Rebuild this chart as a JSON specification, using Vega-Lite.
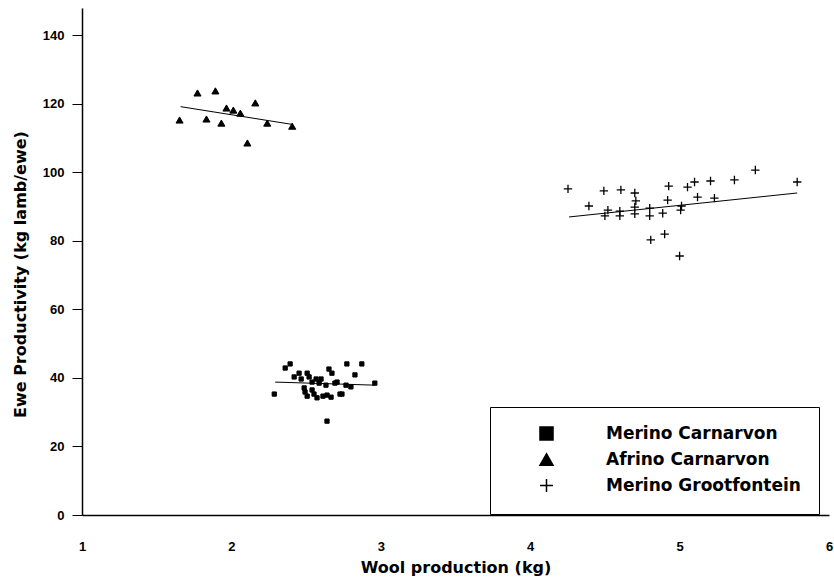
{
  "$schema": "https://vega.github.io/schema/vega-lite/v6.json",
  "width": 747,
  "height": 507,
  "autosize": {"type": "none"},
  "padding": {"left": 82, "top": 8, "right": 5, "bottom": 67},
  "background": "white",
  "config": {
    "view": {"stroke": null},
    "font": "Liberation Sans",
    "axis": {"grid": false, "domainColor": "black", "domainWidth": 1.5, "tickColor": "black", "labelColor": "black", "titleColor": "black", "labelFontWeight": "bold", "titleFontWeight": "bold", "labelFontSize": 13, "titleFont": "DejaVu Sans", "titleFontSize": 16}
  },
  "datasets": {
    "points": [
      {"breed": "Afrino Carnarvon", "wool": 1.653, "prod": 115.3},
      {"breed": "Afrino Carnarvon", "wool": 1.773, "prod": 123.2},
      {"breed": "Afrino Carnarvon", "wool": 1.893, "prod": 123.8},
      {"breed": "Afrino Carnarvon", "wool": 1.833, "prod": 115.6},
      {"breed": "Afrino Carnarvon", "wool": 1.933, "prod": 114.4},
      {"breed": "Afrino Carnarvon", "wool": 1.967, "prod": 118.8},
      {"breed": "Afrino Carnarvon", "wool": 2.013, "prod": 118.2},
      {"breed": "Afrino Carnarvon", "wool": 2.06, "prod": 117.3},
      {"breed": "Afrino Carnarvon", "wool": 2.16, "prod": 120.3},
      {"breed": "Afrino Carnarvon", "wool": 2.24, "prod": 114.4},
      {"breed": "Afrino Carnarvon", "wool": 2.407, "prod": 113.5},
      {"breed": "Afrino Carnarvon", "wool": 2.107, "prod": 108.6},
      {"breed": "Merino Carnarvon", "wool": 2.287, "prod": 35.3},
      {"breed": "Merino Carnarvon", "wool": 2.36, "prod": 42.9},
      {"breed": "Merino Carnarvon", "wool": 2.393, "prod": 44.1},
      {"breed": "Merino Carnarvon", "wool": 2.42, "prod": 40.3},
      {"breed": "Merino Carnarvon", "wool": 2.453, "prod": 41.4},
      {"breed": "Merino Carnarvon", "wool": 2.467, "prod": 39.7},
      {"breed": "Merino Carnarvon", "wool": 2.507, "prod": 41.4},
      {"breed": "Merino Carnarvon", "wool": 2.52, "prod": 40.3},
      {"breed": "Merino Carnarvon", "wool": 2.54, "prod": 38.8},
      {"breed": "Merino Carnarvon", "wool": 2.567, "prod": 39.7},
      {"breed": "Merino Carnarvon", "wool": 2.587, "prod": 38.5},
      {"breed": "Merino Carnarvon", "wool": 2.6, "prod": 39.7},
      {"breed": "Merino Carnarvon", "wool": 2.487, "prod": 37.1},
      {"breed": "Merino Carnarvon", "wool": 2.493, "prod": 35.9},
      {"breed": "Merino Carnarvon", "wool": 2.507, "prod": 34.7},
      {"breed": "Merino Carnarvon", "wool": 2.54, "prod": 36.5},
      {"breed": "Merino Carnarvon", "wool": 2.553, "prod": 35.3},
      {"breed": "Merino Carnarvon", "wool": 2.573, "prod": 34.2},
      {"breed": "Merino Carnarvon", "wool": 2.613, "prod": 34.7},
      {"breed": "Merino Carnarvon", "wool": 2.64, "prod": 35.0},
      {"breed": "Merino Carnarvon", "wool": 2.667, "prod": 34.4},
      {"breed": "Merino Carnarvon", "wool": 2.633, "prod": 37.9},
      {"breed": "Merino Carnarvon", "wool": 2.653, "prod": 42.6},
      {"breed": "Merino Carnarvon", "wool": 2.673, "prod": 41.4},
      {"breed": "Merino Carnarvon", "wool": 2.693, "prod": 38.5},
      {"breed": "Merino Carnarvon", "wool": 2.707, "prod": 38.8},
      {"breed": "Merino Carnarvon", "wool": 2.727, "prod": 35.3},
      {"breed": "Merino Carnarvon", "wool": 2.74, "prod": 35.3},
      {"breed": "Merino Carnarvon", "wool": 2.767, "prod": 37.9},
      {"breed": "Merino Carnarvon", "wool": 2.8, "prod": 37.4},
      {"breed": "Merino Carnarvon", "wool": 2.773, "prod": 44.1},
      {"breed": "Merino Carnarvon", "wool": 2.827, "prod": 40.9},
      {"breed": "Merino Carnarvon", "wool": 2.873, "prod": 44.1},
      {"breed": "Merino Carnarvon", "wool": 2.96, "prod": 38.5},
      {"breed": "Merino Carnarvon", "wool": 2.64, "prod": 27.4},
      {"breed": "Merino Grootfontein", "wool": 4.253, "prod": 95.2},
      {"breed": "Merino Grootfontein", "wool": 4.393, "prod": 90.2},
      {"breed": "Merino Grootfontein", "wool": 4.493, "prod": 94.6},
      {"breed": "Merino Grootfontein", "wool": 4.607, "prod": 94.9},
      {"breed": "Merino Grootfontein", "wool": 4.5, "prod": 87.3},
      {"breed": "Merino Grootfontein", "wool": 4.52, "prod": 89.0},
      {"breed": "Merino Grootfontein", "wool": 4.6, "prod": 88.7},
      {"breed": "Merino Grootfontein", "wool": 4.6, "prod": 87.3},
      {"breed": "Merino Grootfontein", "wool": 4.7, "prod": 94.0},
      {"breed": "Merino Grootfontein", "wool": 4.707, "prod": 91.7},
      {"breed": "Merino Grootfontein", "wool": 4.7, "prod": 89.9},
      {"breed": "Merino Grootfontein", "wool": 4.7, "prod": 87.9},
      {"breed": "Merino Grootfontein", "wool": 4.8, "prod": 89.6},
      {"breed": "Merino Grootfontein", "wool": 4.8, "prod": 87.3},
      {"breed": "Merino Grootfontein", "wool": 4.807, "prod": 80.3},
      {"breed": "Merino Grootfontein", "wool": 4.887, "prod": 88.1},
      {"breed": "Merino Grootfontein", "wool": 4.9, "prod": 82.0},
      {"breed": "Merino Grootfontein", "wool": 4.92, "prod": 91.9},
      {"breed": "Merino Grootfontein", "wool": 4.927, "prod": 96.0},
      {"breed": "Merino Grootfontein", "wool": 5.0, "prod": 75.6},
      {"breed": "Merino Grootfontein", "wool": 5.007, "prod": 89.0},
      {"breed": "Merino Grootfontein", "wool": 5.013, "prod": 90.2},
      {"breed": "Merino Grootfontein", "wool": 5.053, "prod": 95.7},
      {"breed": "Merino Grootfontein", "wool": 5.1, "prod": 97.2},
      {"breed": "Merino Grootfontein", "wool": 5.12, "prod": 92.8},
      {"breed": "Merino Grootfontein", "wool": 5.207, "prod": 97.5},
      {"breed": "Merino Grootfontein", "wool": 5.233, "prod": 92.5},
      {"breed": "Merino Grootfontein", "wool": 5.367, "prod": 97.8},
      {"breed": "Merino Grootfontein", "wool": 5.507, "prod": 100.7},
      {"breed": "Merino Grootfontein", "wool": 5.787, "prod": 97.2}
    ],
    "fits": [
      {"breed": "Afrino Carnarvon", "wool": 1.66, "prod": 119.2},
      {"breed": "Afrino Carnarvon", "wool": 2.41, "prod": 114.0},
      {"breed": "Merino Carnarvon", "wool": 2.293, "prod": 38.8},
      {"breed": "Merino Carnarvon", "wool": 2.96, "prod": 37.9},
      {"breed": "Merino Grootfontein", "wool": 4.26, "prod": 87.0},
      {"breed": "Merino Grootfontein", "wool": 5.787, "prod": 94.0}
    ]
  },
  "encoding": {
    "x": {"field": "wool", "type": "quantitative", "scale": {"domain": [1, 6], "nice": false}, "axis": {"values": [1, 2, 3, 4, 5, 6], "format": "d", "ticks": false, "labelPadding": 25, "title": "Wool production (kg)", "titlePadding": 6, "labelFlush": false}},
    "y": {"field": "prod", "type": "quantitative", "scale": {"domain": [0, 148], "nice": false}, "axis": {"values": [0, 20, 40, 60, 80, 100, 120, 140], "format": "d", "tickSize": 10, "labelPadding": 8, "title": "Ewe Productivity (kg lamb/ewe)", "titlePadding": 14, "titleY": 266}}
  },
  "layer": [
    {
      "data": {"name": "fits"},
      "mark": {"type": "line", "color": "black", "strokeWidth": 1},
      "encoding": {
        "detail": {"field": "breed"}
      }
    },
    {
      "data": {"name": "points"},
      "transform": [{"filter": "datum.breed === 'Merino Carnarvon'"}],
      "mark": {"type": "point", "filled": true, "color": "black", "stroke": "black", "strokeWidth": 1, "opacity": 1, "size": 18},
      "encoding": {
        "shape": {"field": "breed", "type": "nominal", "scale": {"domain": ["Merino Carnarvon", "Afrino Carnarvon", "Merino Grootfontein"], "range": ["square", "triangle-up", "M-1,0H1M0,-1V1"]},
          "legend": {"title": null, "orient": "none", "legendX": 408, "legendY": 399, "strokeColor": "black", "fillColor": "white", "padding": 18, "symbolOffset": 30, "symbolSize": 170, "symbolFillColor": "black", "symbolOpacity": 1, "labelFont": "DejaVu Sans", "labelFontSize": 17, "labelFontWeight": "bold", "labelColor": "black", "labelOffset": 51, "rowPadding": 6, "labelLimit": 400,
            "encode": {"symbols": {"update": {"stroke": {"value": "black"}, "strokeWidth": {"value": 1.3}, "fill": {"value": "black"}, "opacity": {"value": 1}}}, "legend": {"update": {"strokeWidth": {"value": 1.5}}}}}}
      }
    },
    {
      "data": {"name": "points"},
      "transform": [{"filter": "datum.breed === 'Afrino Carnarvon'"}],
      "mark": {"type": "point", "filled": true, "color": "black", "stroke": "black", "strokeWidth": 1, "opacity": 1, "size": 50},
      "encoding": {
        "shape": {"field": "breed", "type": "nominal"}
      }
    },
    {
      "data": {"name": "points"},
      "transform": [{"filter": "datum.breed === 'Merino Grootfontein'"}],
      "mark": {"type": "point", "filled": true, "color": "black", "stroke": "black", "strokeWidth": 1.3, "opacity": 1, "size": 70},
      "encoding": {
        "shape": {"field": "breed", "type": "nominal"}
      }
    }
  ]
}
